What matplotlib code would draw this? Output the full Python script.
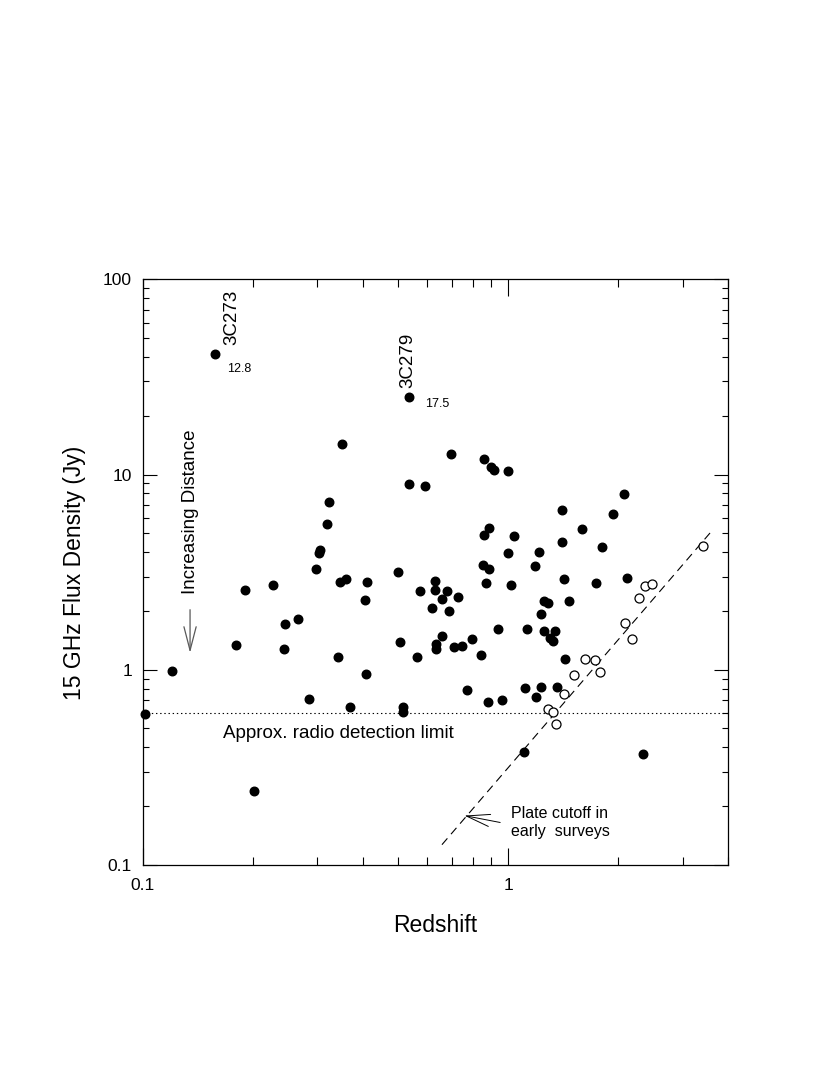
import numpy as np
import matplotlib
matplotlib.use("Agg")
import matplotlib.pyplot as plt
from matplotlib.ticker import FixedLocator, FixedFormatter, LogLocator, NullFormatter

plt.rcParams['font.family'] = ['Liberation Sans', 'DejaVu Sans']
plt.rcParams['lines.scale_dashes'] = False

# quasars with optical ids (filled) : redshift, 15 GHz flux density (Jy)
z_filled = [0.158, 0.537, 0.351, 0.537, 0.592, 0.324, 0.320, 0.306, 0.303, 0.298,
            0.500, 0.697, 0.858, 0.898, 0.913, 0.998, 2.07, 1.405, 1.93, 1.59,
            0.887, 0.858, 1.038, 1.40, 1.80, 0.996, 1.213, 0.853, 0.887, 1.185,
            0.191, 0.227, 0.347, 0.360, 0.412, 0.405, 0.574, 0.246, 0.266, 0.180,
            0.244, 0.343, 0.506, 0.564, 0.1206, 0.409, 0.286, 0.370, 0.516, 0.516,
            0.1018, 0.2015, 1.423, 1.738, 2.107, 1.432, 1.113, 1.229, 1.364, 1.19,
            0.771, 0.880, 0.959, 1.108, 2.34, 0.629, 0.629, 0.680, 0.661, 0.729,
            0.620, 0.691, 0.661, 0.634, 0.634, 0.710, 0.750, 0.796, 0.842, 0.872,
            1.015, 0.939, 1.125, 1.226, 1.257, 1.284, 1.466, 1.252, 1.342, 1.30,
            1.322]
s_filled = [41.4, 24.9, 14.4, 8.89, 8.71, 7.23, 5.56, 4.12, 3.94, 3.30,
            3.18, 12.7, 12.0, 10.9, 10.6, 10.4, 7.93, 6.56, 6.31, 5.28,
            5.30, 4.92, 4.84, 4.50, 4.27, 3.96, 4.01, 3.44, 3.27, 3.39,
            2.57, 2.72, 2.83, 2.90, 2.81, 2.27, 2.53, 1.71, 1.82, 1.34,
            1.27, 1.16, 1.39, 1.16, 0.99, 0.946, 0.707, 0.646, 0.646, 0.606,
            0.595, 0.238, 2.90, 2.78, 2.96, 1.13, 0.805, 0.814, 0.814, 0.724,
            0.786, 0.685, 0.696, 0.378, 0.368, 2.85, 2.55, 2.53, 2.29, 2.36,
            2.08, 2.00, 1.49, 1.35, 1.27, 1.30, 1.33, 1.43, 1.19, 2.79,
            2.72, 1.62, 1.62, 1.93, 2.24, 2.20, 2.26, 1.585, 1.58, 1.45,
            1.41]

# open circles
z_open = [3.40, 2.36, 2.47, 2.28, 2.09, 2.18, 1.618, 1.73, 1.78, 1.51, 1.417, 1.287, 1.322, 1.353]
s_open = [4.30, 2.67, 2.74, 2.32, 1.74, 1.43, 1.13, 1.125, 0.977, 0.935, 0.753, 0.626, 0.606, 0.528]

detect_limit = 0.6
cutoff_z = [0.659, 3.63]
cutoff_s = [0.127, 5.22]

fig = plt.figure(figsize=(8.3, 10.73), dpi=100)
ax = fig.add_axes([0.1717, 0.1939, 0.7058, 0.5458])

ax.set_xscale('log')
ax.set_yscale('log')
ax.set_xlim(0.1, 4)
ax.set_ylim(0.1, 100)

ax.axhline(detect_limit, color='black', lw=0.8, ls=(0, (1, 2)))
ax.plot(cutoff_z, cutoff_s, color='black', lw=0.8, ls=(0, (6, 4)))

ax.scatter(z_filled, s_filled, s=38, c='black', zorder=3, clip_on=False)
ax.scatter(z_open, s_open, s=42, facecolors='white', edgecolors='black', linewidths=0.9, zorder=3)

# labels of the two bright sources
ax.text(0.1754, 46.0, '3C273', rotation=90, ha='center', va='bottom', fontsize=13.5)
ax.text(0.170, 34.7, '12.8', ha='left', va='center', fontsize=9)
ax.text(0.533, 27.7, '3C279', rotation=90, ha='center', va='bottom', fontsize=13.5)
ax.text(0.593, 23.1, '17.5', ha='left', va='center', fontsize=9)

ax.text(0.1349, 2.45, 'Increasing Distance', rotation=90, ha='center', va='bottom', fontsize=13.5)
ax.annotate('', xy=(0.1349, 1.22), xytext=(0.1349, 2.03),
            arrowprops=dict(arrowstyle='->,head_length=0.85,head_width=0.22',
                            color='0.35', lw=0.9, mutation_scale=20, shrinkA=0, shrinkB=0))

ax.text(0.1658, 0.47, 'Approx. radio detection limit', ha='left', va='center', fontsize=13.5)

ax.text(1.017, 0.165, 'Plate cutoff in\nearly  surveys', ha='left', va='center',
        fontsize=11.5, linespacing=1.32)
ax.annotate('', xy=(0.759, 0.179), xytext=(0.951, 0.165),
            arrowprops=dict(arrowstyle='->,head_length=0.85,head_width=0.22',
                            color='black', lw=0.7, mutation_scale=20, shrinkA=0, shrinkB=0))

# ticks
ax.xaxis.set_major_locator(FixedLocator([0.1, 1]))
ax.xaxis.set_major_formatter(FixedFormatter(['0.1', '1']))
ax.xaxis.set_minor_locator(LogLocator(base=10, subs=np.arange(2, 10)))
ax.xaxis.set_minor_formatter(NullFormatter())
ax.yaxis.set_major_locator(FixedLocator([0.1, 1, 10, 100]))
ax.yaxis.set_major_formatter(FixedFormatter(['0.1', '1', '10', '100']))
ax.yaxis.set_minor_locator(LogLocator(base=10, subs=np.arange(2, 10)))
ax.yaxis.set_minor_formatter(NullFormatter())

ax.tick_params(which='both', direction='in', top=True, right=True, width=0.8, labelsize=12.5)
ax.tick_params(axis='x', which='major', length=12, pad=9.5)
ax.tick_params(axis='x', which='minor', length=6)
ax.tick_params(axis='y', which='major', length=10, pad=7.5)
ax.tick_params(axis='y', which='minor', length=4.5)
for sp in ax.spines.values():
    sp.set_linewidth(0.9)

fig.text(0.5245, 0.137, 'Redshift', ha='center', va='center', fontsize=16.5)
fig.text(0.090, 0.466, '15 GHz Flux Density (Jy)', rotation=90, ha='center', va='center', fontsize=16.5)

fig.savefig('out.png', dpi=100)
